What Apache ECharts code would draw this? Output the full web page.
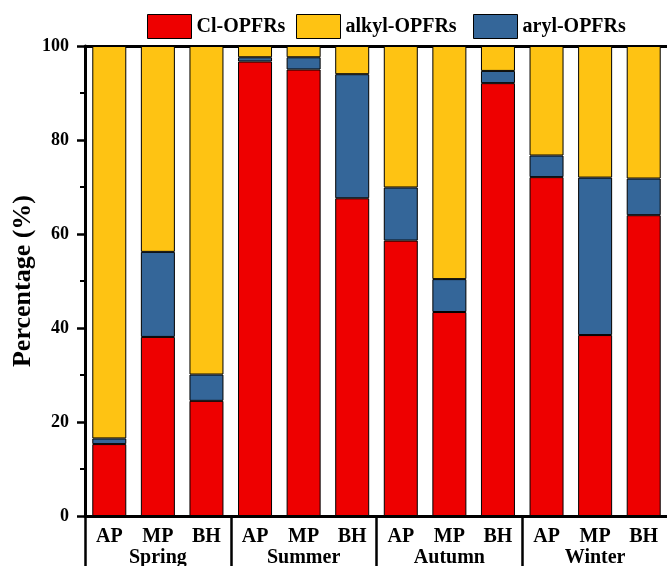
<!DOCTYPE html>
<html>
<head>
<meta charset="utf-8">
<script src="https://cdn.jsdelivr.net/npm/echarts@6/dist/echarts.min.js"></script>
<style>html,body{margin:0;padding:0;background:#fff}#c{width:667px;height:566px}</style>
</head>
<body>
<div id="c"></div>
<script>
const categories = ['AP','MP','BH','AP','MP','BH','AP','MP','BH','AP','MP','BH'];
const seasons = ['Spring','Summer','Autumn','Winter'];
const clOPFRs    = [15.3, 38.1, 24.5, 96.7, 95.0, 67.6, 58.6, 43.4, 92.1, 72.1, 38.5, 64.0];
const arylOPFRs  = [1.2, 18.1, 5.6, 0.9, 2.6, 26.4, 11.3, 7.0, 2.6, 4.6, 33.5, 7.8];
const alkylOPFRs = [83.5, 43.8, 69.9, 2.4, 2.4, 6.0, 30.1, 49.6, 5.3, 23.3, 28.0, 28.2];
const yTicks = [0, 20, 40, 60, 80, 100];

const FONT = '"Liberation Serif","Times New Roman",serif';
const txt = {fontFamily: FONT, fontWeight: 'bold', color: '#000'};
const colors = {cl: '#EE0000', alkyl: '#FEC313', aryl: '#346699'};

function legend(name, left) {
  return {
    data: [name], left: left, top: 14, padding: 0, itemWidth: 44, itemHeight: 24, itemGap: 0,
    icon: 'rect', selectedMode: false,
    textStyle: Object.assign({fontSize: 20}, txt),
    itemStyle: {borderColor: '#000', borderWidth: 1}
  };
}

const chart = echarts.init(document.getElementById('c'), null, {renderer: 'canvas'});
chart.setOption({
  animation: false,
  backgroundColor: '#fff',
  legend: [legend('Cl-OPFRs', 147), legend('alkyl-OPFRs', 296), legend('aryl-OPFRs', 473)],
  grid: {left: 85, top: 46, width: 583, height: 470, containLabel: false, outerBoundsMode: 'none'},
  xAxis: [
    {
      type: 'category', data: categories, position: 'bottom',
      axisLine: {lineStyle: {color: '#000', width: 3}},
      axisTick: {show: false},
      axisLabel: Object.assign({fontSize: 20, margin: 11, interval: 0}, txt)
    },
    {
      type: 'category', data: seasons, position: 'bottom',
      axisLine: {show: false},
      axisTick: {show: true, inside: false, length: 52, interval: 0, alignWithLabel: false, lineStyle: {color: '#000', width: 2.5}},
      axisLabel: Object.assign({fontSize: 20, margin: 32, interval: 0}, txt)
    },
    {
      type: 'category', data: categories, position: 'top',
      axisLine: {lineStyle: {color: '#000', width: 3}},
      axisTick: {show: false}, axisLabel: {show: false}
    }
  ],
  yAxis: {
    type: 'value', min: yTicks[0], max: yTicks[yTicks.length - 1], interval: 20,
    name: 'Percentage (%)', nameLocation: 'middle', nameGap: 49, nameMoveOverlap: false,
    nameTextStyle: Object.assign({fontSize: 26}, txt),
    axisLine: {show: true, lineStyle: {color: '#000', width: 3}},
    axisTick: {show: true, length: 8, lineStyle: {color: '#000', width: 2.5}},
    minorTick: {show: true, splitNumber: 2, length: 5, lineStyle: {color: '#000', width: 2}},
    splitLine: {show: false},
    axisLabel: Object.assign({fontSize: 18, margin: 16}, txt)
  },
  series: [
    {name: 'Cl-OPFRs', type: 'bar', stack: 'a', data: clOPFRs, barCategoryGap: '30%',
     itemStyle: {color: colors.cl, borderColor: '#000', borderWidth: 1}},
    {name: 'aryl-OPFRs', type: 'bar', stack: 'a', data: arylOPFRs, barCategoryGap: '30%',
     itemStyle: {color: colors.aryl, borderColor: '#000', borderWidth: 1}},
    {name: 'alkyl-OPFRs', type: 'bar', stack: 'a', data: alkylOPFRs, barCategoryGap: '30%',
     itemStyle: {color: colors.alkyl, borderColor: '#000', borderWidth: 1}}
  ]
});
</script>
</body>
</html>
